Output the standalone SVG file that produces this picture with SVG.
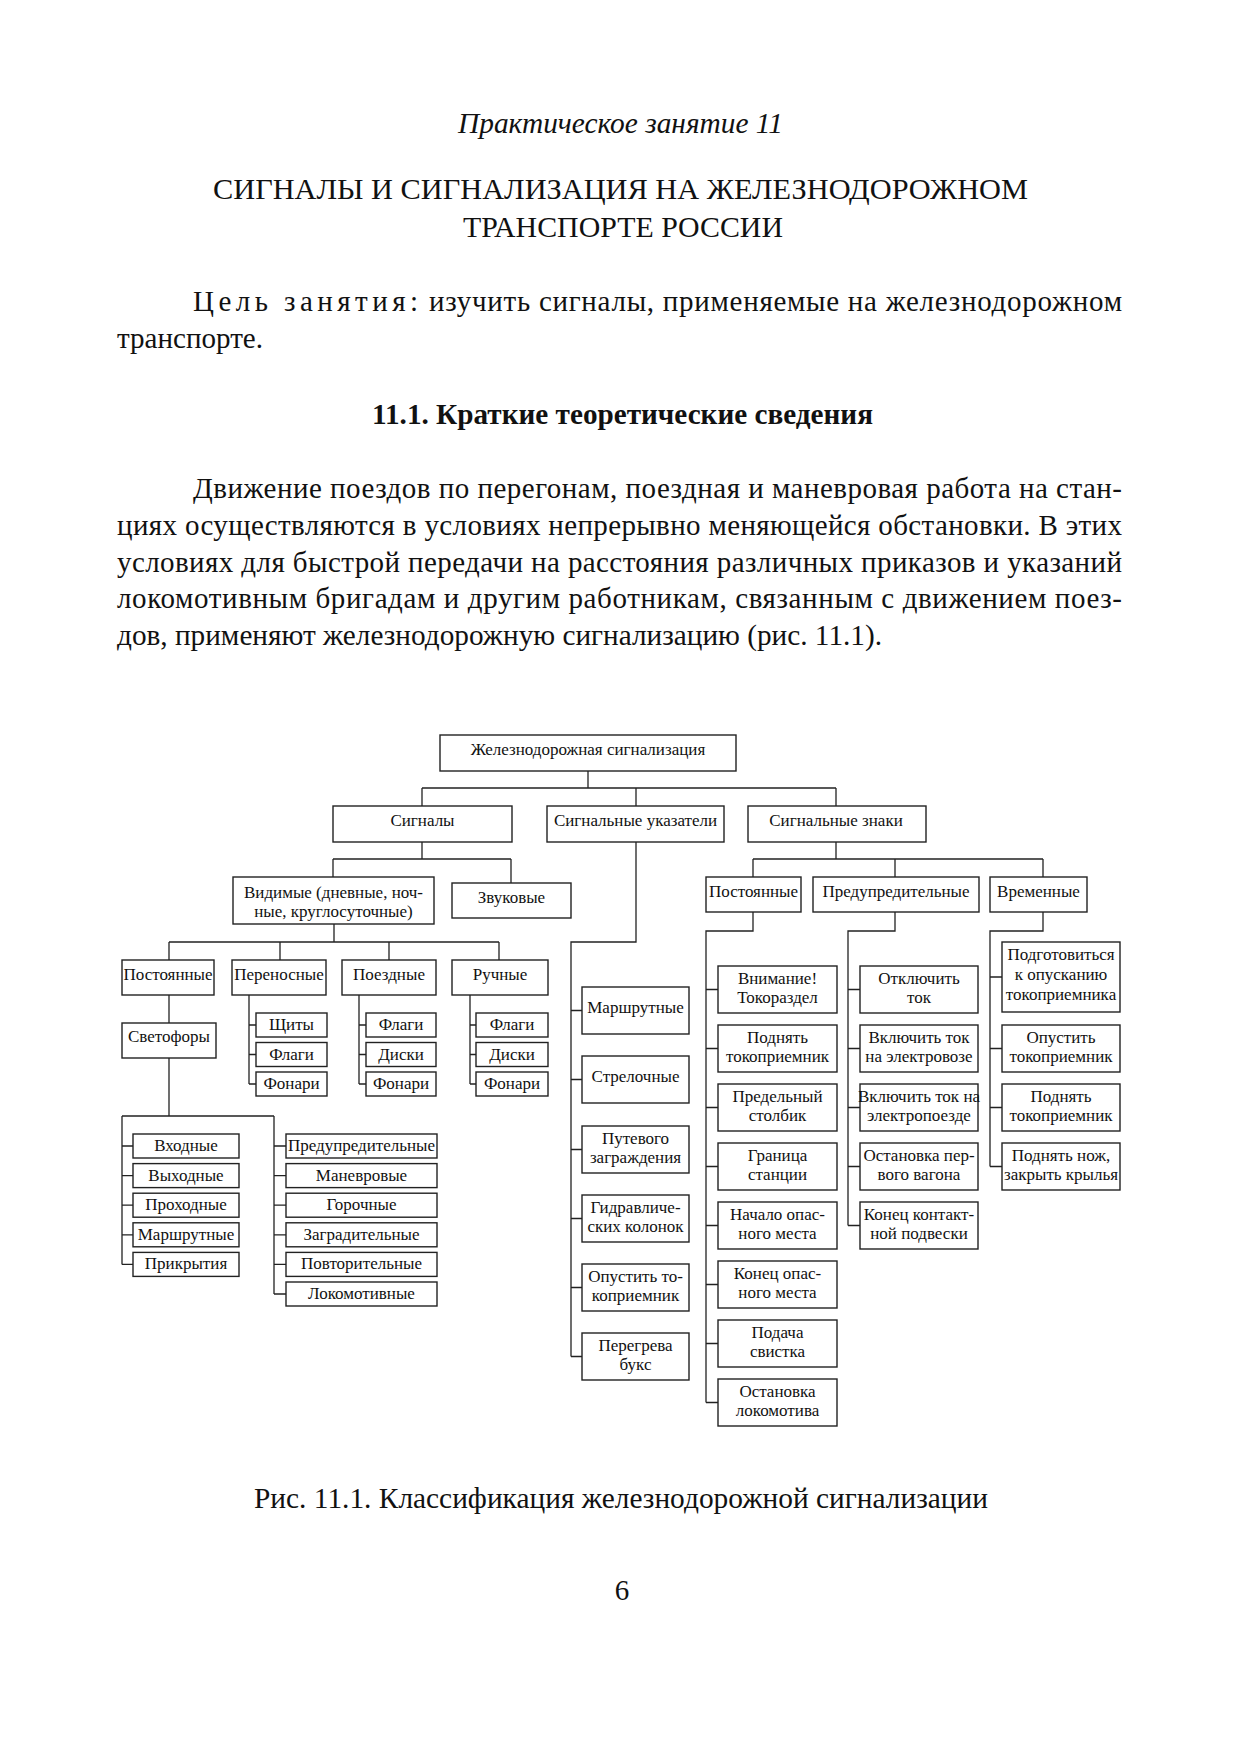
<svg xmlns="http://www.w3.org/2000/svg" width="1241" height="1754" viewBox="0 0 1241 1754">
<style>
.page{font-family:"Liberation Serif","Times New Roman",serif;fill:#111}
.body{font-size:29px}
.box{fill:#fff;stroke:#222;stroke-width:1.4}
.t{font-family:"Liberation Serif","Times New Roman",serif;font-size:17px;text-anchor:middle;fill:#111}
.c{fill:none;stroke:#222;stroke-width:1.3}
</style>
<rect width="1241" height="1754" fill="#fff"/>
<g id="page-text" class="page">
<text x="458" y="133" class="body" font-style="italic" textLength="325" lengthAdjust="spacingAndGlyphs">Практическое занятие 11</text>
<text x="213" y="199" class="body" textLength="815" lengthAdjust="spacingAndGlyphs">СИГНАЛЫ  И  СИГНАЛИЗАЦИЯ  НА  ЖЕЛЕЗНОДОРОЖНОМ</text>
<text x="463" y="237" class="body" textLength="320" lengthAdjust="spacingAndGlyphs">ТРАНСПОРТЕ  РОССИИ</text>
<text x="193" y="311" class="body" textLength="225" lengthAdjust="spacing">Цель занятия:</text>
<text x="429" y="311" class="body" textLength="693" lengthAdjust="spacing">изучить сигналы, применяемые на железнодорожном</text>
<text x="117" y="348" class="body" textLength="146" lengthAdjust="spacingAndGlyphs">транспорте.</text>
<text x="372" y="424" class="body" font-weight="bold" textLength="501" lengthAdjust="spacingAndGlyphs">11.1. Краткие теоретические сведения</text>
<text x="193" y="498" class="body" textLength="929" lengthAdjust="spacing">Движение поездов по перегонам, поездная и маневровая работа на стан-</text>
<text x="117" y="535" class="body" textLength="1005" lengthAdjust="spacing">циях осуществляются в условиях непрерывно меняющейся обстановки. В этих</text>
<text x="117" y="572" class="body" textLength="1005" lengthAdjust="spacing">условиях для быстрой передачи на расстояния различных приказов и указаний</text>
<text x="117" y="608" class="body" textLength="1005" lengthAdjust="spacing">локомотивным бригадам и другим работникам, связанным с движением поез-</text>
<text x="117" y="645" class="body" textLength="765" lengthAdjust="spacingAndGlyphs">дов, применяют железнодорожную сигнализацию (рис. 11.1).</text>
<text x="254" y="1508" class="body" textLength="734" lengthAdjust="spacingAndGlyphs">Рис. 11.1. Классификация железнодорожной сигнализации</text>
<text x="622" y="1600" class="body" text-anchor="middle">6</text>
</g>
<g id="connectors" class="c">
<path d="M588,771V788M422,788H836M422,788V806M636,788V806M836,788V806"/>
<path d="M422,842V859M333,859H511M333,859V877M511,859V883"/>
<path d="M334,924V942M169,942H499M169,942V960M280,942V960M389,942V960M499,942V960"/>
<path d="M169,995V1023"/>
<path d="M249,995V1084M249,1025H256M249,1054.5H256M249,1084H256"/>
<path d="M359,995V1084M359,1025H366M359,1054.5H366M359,1084H366"/>
<path d="M470,995V1084M470,1025H476M470,1054.5H476M470,1084H476"/>
<path d="M169,1058V1116M122,1116H274M122,1116V1264.4M274,1116V1294"/>
<path d="M122,1146H133M122,1175.6H133M122,1205.2H133M122,1234.8H133M122,1264.4H133"/>
<path d="M274,1146H286M274,1175.6H286M274,1205.2H286M274,1234.8H286M274,1264.4H286M274,1294H286"/>
<path d="M636,842V942H571V1356.5M571,1010.5H582M571,1079.5H582M571,1149.5H582M571,1218.5H582M571,1287.5H582M571,1356.5H582"/>
<path d="M836,842V859M753,859H1043M753,859V877M895,859V877M1043,859V877"/>
<path d="M753,912V931H706V1402.5M706,989.5H718M706,1048.5H718M706,1107.5H718M706,1166.5H718M706,1225.5H718M706,1284.5H718M706,1343.5H718M706,1402.5H718"/>
<path d="M895,912V931H848V1225.5M848,989.5H860M848,1048.5H860M848,1107.5H860M848,1166.5H860M848,1225.5H860"/>
<path d="M1043,912V931H990V1166.5M990,977H1002M990,1048.5H1002M990,1107.5H1002M990,1166.5H1002"/>
</g>
<g id="n-root"><rect class="box" x="440" y="735" width="296" height="36"/><text class="t" x="588" y="755">Железнодорожная сигнализация</text></g>
<g id="n-signaly"><rect class="box" x="333" y="806" width="179" height="36"/><text class="t" x="422.5" y="826">Сигналы</text></g>
<g id="n-ukazateli"><rect class="box" x="547" y="806" width="177" height="36"/><text class="t" x="635.5" y="826">Сигнальные указатели</text></g>
<g id="n-znaki"><rect class="box" x="748" y="806" width="178" height="36"/><text class="t" x="836" y="826">Сигнальные знаки</text></g>
<g id="n-vidimye"><rect class="box" x="233" y="877" width="201" height="47"/><text class="t" x="333.5" y="898">Видимые (дневные, ноч-</text><text class="t" x="333.5" y="917">ные, круглосуточные)</text></g>
<g id="n-zvukovye"><rect class="box" x="452" y="883" width="119" height="35"/><text class="t" x="511.5" y="902.5">Звуковые</text></g>
<g id="n-postoyannye"><rect class="box" x="122" y="960" width="92" height="35"/><text class="t" x="168" y="979.5">Постоянные</text></g>
<g id="n-perenosnye"><rect class="box" x="232" y="960" width="94" height="35"/><text class="t" x="279" y="979.5">Переносные</text></g>
<g id="n-poezdnye"><rect class="box" x="342" y="960" width="94" height="35"/><text class="t" x="389" y="979.5">Поездные</text></g>
<g id="n-ruchnye"><rect class="box" x="452" y="960" width="96" height="35"/><text class="t" x="500" y="979.5">Ручные</text></g>
<g id="n-svetofory"><rect class="box" x="122" y="1023" width="94" height="35"/><text class="t" x="169" y="1042">Светофоры</text></g>
<g id="n-per-shchity"><rect class="box" x="256" y="1013" width="71" height="24"/><text class="t" x="291.5" y="1030">Щиты</text></g>
<g id="n-per-flagi"><rect class="box" x="256" y="1042.5" width="71" height="24"/><text class="t" x="291.5" y="1059.5">Флаги</text></g>
<g id="n-per-fonari"><rect class="box" x="256" y="1072" width="71" height="24"/><text class="t" x="291.5" y="1089">Фонари</text></g>
<g id="n-poe-flagi"><rect class="box" x="366" y="1013" width="70" height="24"/><text class="t" x="401" y="1030">Флаги</text></g>
<g id="n-poe-diski"><rect class="box" x="366" y="1042.5" width="70" height="24"/><text class="t" x="401" y="1059.5">Диски</text></g>
<g id="n-poe-fonari"><rect class="box" x="366" y="1072" width="70" height="24"/><text class="t" x="401" y="1089">Фонари</text></g>
<g id="n-ru-flagi"><rect class="box" x="476" y="1013" width="72" height="24"/><text class="t" x="512" y="1030">Флаги</text></g>
<g id="n-ru-diski"><rect class="box" x="476" y="1042.5" width="72" height="24"/><text class="t" x="512" y="1059.5">Диски</text></g>
<g id="n-ru-fonari"><rect class="box" x="476" y="1072" width="72" height="24"/><text class="t" x="512" y="1089">Фонари</text></g>
<g id="n-vkhodnye"><rect class="box" x="133" y="1134" width="106" height="24"/><text class="t" x="186" y="1151">Входные</text></g>
<g id="n-vykhodnye"><rect class="box" x="133" y="1163.6" width="106" height="24"/><text class="t" x="186" y="1180.6">Выходные</text></g>
<g id="n-prokhodnye"><rect class="box" x="133" y="1193.2" width="106" height="24"/><text class="t" x="186" y="1210.2">Проходные</text></g>
<g id="n-marshrutnye-s"><rect class="box" x="133" y="1222.8" width="106" height="24"/><text class="t" x="186" y="1239.8">Маршрутные</text></g>
<g id="n-prikrytiya"><rect class="box" x="133" y="1252.4" width="106" height="24"/><text class="t" x="186" y="1269.4">Прикрытия</text></g>
<g id="n-predupr-s"><rect class="box" x="286" y="1134" width="151" height="24"/><text class="t" x="361.5" y="1151">Предупредительные</text></g>
<g id="n-manevrovye"><rect class="box" x="286" y="1163.6" width="151" height="24"/><text class="t" x="361.5" y="1180.6">Маневровые</text></g>
<g id="n-gorochnye"><rect class="box" x="286" y="1193.2" width="151" height="24"/><text class="t" x="361.5" y="1210.2">Горочные</text></g>
<g id="n-zagraditelnye"><rect class="box" x="286" y="1222.8" width="151" height="24"/><text class="t" x="361.5" y="1239.8">Заградительные</text></g>
<g id="n-povtoritelnye"><rect class="box" x="286" y="1252.4" width="151" height="24"/><text class="t" x="361.5" y="1269.4">Повторительные</text></g>
<g id="n-lokomotivnye"><rect class="box" x="286" y="1282" width="151" height="24"/><text class="t" x="361.5" y="1299">Локомотивные</text></g>
<g id="n-u-marshrutnye"><rect class="box" x="582" y="987" width="107" height="47"/><text class="t" x="635.5" y="1012.5">Маршрутные</text></g>
<g id="n-u-strelochnye"><rect class="box" x="582" y="1056" width="107" height="47"/><text class="t" x="635.5" y="1081.5">Стрелочные</text></g>
<g id="n-u-putevogo"><rect class="box" x="582" y="1126" width="107" height="47"/><text class="t" x="635.5" y="1143.5">Путевого</text><text class="t" x="635.5" y="1162.5">заграждения</text></g>
<g id="n-u-gidravl"><rect class="box" x="582" y="1195" width="107" height="47"/><text class="t" x="635.5" y="1212.5">Гидравличе-</text><text class="t" x="635.5" y="1231.5">ских колонок</text></g>
<g id="n-u-opustit"><rect class="box" x="582" y="1264" width="107" height="47"/><text class="t" x="635.5" y="1281.5">Опустить то-</text><text class="t" x="635.5" y="1300.5">коприемник</text></g>
<g id="n-u-peregreva"><rect class="box" x="582" y="1333" width="107" height="47"/><text class="t" x="635.5" y="1350.5">Перегрева</text><text class="t" x="635.5" y="1369.5">букс</text></g>
<g id="n-z-postoyannye"><rect class="box" x="706" y="877" width="95" height="35"/><text class="t" x="753.5" y="896.5">Постоянные</text></g>
<g id="n-z-predupr"><rect class="box" x="813" y="877" width="166" height="35"/><text class="t" x="896" y="896.5">Предупредительные</text></g>
<g id="n-z-vremennye"><rect class="box" x="990" y="877" width="97" height="35"/><text class="t" x="1038.5" y="896.5">Временные</text></g>
<g id="n-p-vnimanie"><rect class="box" x="718" y="966" width="119" height="47"/><text class="t" x="777.5" y="983.5">Внимание!</text><text class="t" x="777.5" y="1002.5">Токораздел</text></g>
<g id="n-p-podnyat"><rect class="box" x="718" y="1025" width="119" height="47"/><text class="t" x="777.5" y="1042.5">Поднять</text><text class="t" x="777.5" y="1061.5">токоприемник</text></g>
<g id="n-p-predelny"><rect class="box" x="718" y="1084" width="119" height="47"/><text class="t" x="777.5" y="1101.5">Предельный</text><text class="t" x="777.5" y="1120.5">столбик</text></g>
<g id="n-p-granica"><rect class="box" x="718" y="1143" width="119" height="47"/><text class="t" x="777.5" y="1160.5">Граница</text><text class="t" x="777.5" y="1179.5">станции</text></g>
<g id="n-p-nachalo"><rect class="box" x="718" y="1202" width="119" height="47"/><text class="t" x="777.5" y="1219.5">Начало опас-</text><text class="t" x="777.5" y="1238.5">ного места</text></g>
<g id="n-p-konec"><rect class="box" x="718" y="1261" width="119" height="47"/><text class="t" x="777.5" y="1278.5">Конец опас-</text><text class="t" x="777.5" y="1297.5">ного места</text></g>
<g id="n-p-podacha"><rect class="box" x="718" y="1320" width="119" height="47"/><text class="t" x="777.5" y="1337.5">Подача</text><text class="t" x="777.5" y="1356.5">свистка</text></g>
<g id="n-p-ostanovka"><rect class="box" x="718" y="1379" width="119" height="47"/><text class="t" x="777.5" y="1396.5">Остановка</text><text class="t" x="777.5" y="1415.5">локомотива</text></g>
<g id="n-w-otkl"><rect class="box" x="860" y="966" width="118" height="47"/><text class="t" x="919" y="983.5">Отключить</text><text class="t" x="919" y="1002.5">ток</text></g>
<g id="n-w-vkl-el"><rect class="box" x="860" y="1025" width="118" height="47"/><text class="t" x="919" y="1042.5">Включить ток</text><text class="t" x="919" y="1061.5">на электровозе</text></g>
<g id="n-w-vkl-ep"><rect class="box" x="860" y="1084" width="118" height="47"/><text class="t" x="919" y="1101.5">Включить ток на</text><text class="t" x="919" y="1120.5">электропоезде</text></g>
<g id="n-w-ost"><rect class="box" x="860" y="1143" width="118" height="47"/><text class="t" x="919" y="1160.5">Остановка пер-</text><text class="t" x="919" y="1179.5">вого вагона</text></g>
<g id="n-w-konec"><rect class="box" x="860" y="1202" width="118" height="47"/><text class="t" x="919" y="1219.5">Конец контакт-</text><text class="t" x="919" y="1238.5">ной подвески</text></g>
<g id="n-t-podgot"><rect class="box" x="1002" y="942" width="118" height="70"/><text class="t" x="1061" y="960">Подготовиться</text><text class="t" x="1061" y="980">к опусканию</text><text class="t" x="1061" y="1000">токоприемника</text></g>
<g id="n-t-opustit"><rect class="box" x="1002" y="1025" width="118" height="47"/><text class="t" x="1061" y="1042.5">Опустить</text><text class="t" x="1061" y="1061.5">токоприемник</text></g>
<g id="n-t-podnyat"><rect class="box" x="1002" y="1084" width="118" height="47"/><text class="t" x="1061" y="1101.5">Поднять</text><text class="t" x="1061" y="1120.5">токоприемник</text></g>
<g id="n-t-nozh"><rect class="box" x="1002" y="1143" width="118" height="47"/><text class="t" x="1061" y="1160.5">Поднять нож,</text><text class="t" x="1061" y="1179.5">закрыть крылья</text></g>
</svg>
